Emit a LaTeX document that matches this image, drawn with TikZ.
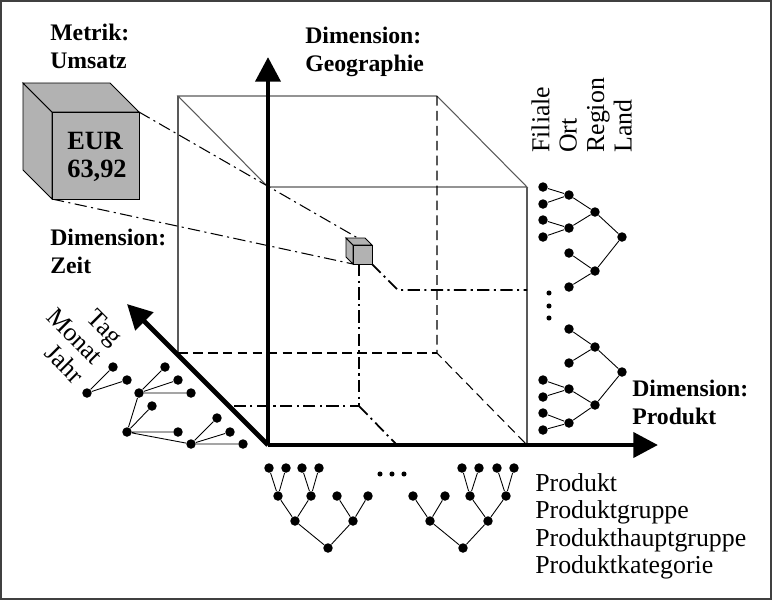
\documentclass[tikz,border=0pt]{standalone}
\usepackage{fontspec}
\setmainfont{Liberation Serif}
\usepackage{tikz}
\usetikzlibrary{arrows.meta}
\tikzset{
  dot/.style={circle, fill=black, inner sep=0pt, minimum size=5.4pt},
  smalldot/.style={circle, fill=black, inner sep=0pt, minimum size=2.9pt},
  axis/.style={line width=2.8pt, -{Triangle[length=14pt, width=14pt]}},
  twig/.style={draw=black, line width=0.5pt},
  edge3d/.style={draw=black!65, line width=0.6pt},
  hidden/.style={draw=black, line width=0.6pt, dash pattern=on 5.5pt off 3pt},
  proj/.style={draw=black, line width=0.6pt, dash pattern=on 7pt off 2.5pt on 1.2pt off 2.5pt},
  projthick/.style={proj, line width=1pt},
  cubeface/.style={fill=black!30, draw=black, line width=0.5pt},
  lbl/.style={font=\fontsize{13.5}{15.5}\selectfont\bfseries, align=left, inner sep=0pt, anchor=north west},
  lvl/.style={font=\fontsize{14.7}{15.6}\selectfont, align=left, inner sep=0pt},
}

\begin{document}
\begin{tikzpicture}[x=0.02cm, y=-0.02cm]
\useasboundingbox (0,0) rectangle (772,600);
\draw[black!75, line width=1.2pt] (1,1) rectangle (771,599);

% data cube, wire frame
\draw[edge3d] (268,187) -- (178,96) -- (437,96) -- (527,187) -- (268,187);
\draw[edge3d] (178,96) -- (178,353);
\draw[edge3d] (527,187) -- (527,445);
\draw[hidden] (437,96) -- (437,353) -- (527,445);
\draw[hidden] (178,353) -- (437,353);

% projection lines
\coordinate (cell) at (359,264);
\coordinate (floor) at (359,406);
\draw[projthick] (372,264) -- (398,290) -- (527,290);
\draw[projthick] (cell) -- (floor) -- (231,406);
\draw[projthick] (floor) -- (396,444);
\draw[proj] (139,112) -- (370,245);
\draw[proj] (52,199) -- (353,264);

% small cell
\draw[cubeface] (353,245) -- (346,238) -- (346,257) -- (353,264) -- cycle;
\draw[cubeface] (353,245) -- (346,238) -- (365,238) -- (372,245) -- cycle;
\draw[cubeface] (353,245) rectangle (372,264);

% the cell, enlarged
\draw[cubeface] (52,112) -- (23,83) -- (23,170) -- (52,199) -- cycle;
\draw[cubeface] (52,112) -- (23,83) -- (110,83) -- (139,112) -- cycle;
\draw[cubeface] (52,112) rectangle (139,199);
\node[font=\fontsize{15}{15.5}\selectfont\bfseries, align=left] (value) at (97,157) {EUR\\63,92};

% axes
\coordinate (O) at (268,445);
\draw[axis] (O) -- (268,57);
\draw[axis] (O) -- (658,445);
\draw[axis] (O) -- (127,304);

% labels
\node[lbl] (metric) at (50,24) {Metrik:\\Umsatz};
\node[lbl] (dimtime) at (50,229) {Dimension:\\Zeit};
\node[lbl] (dimgeo) at (305,27) {Dimension:\\Geographie};
\node[lbl] (dimprod) at (632,380) {Dimension:\\Produkt};
\node[lvl, anchor=north west] (prodlevels) at (535,473)
  {Produkt\\Produktgruppe\\Produkthauptgruppe\\Produktkategorie};
\node[lvl, rotate=90, anchor=north west] (geolevels) at (531,153)
  {Filiale\\Ort\\Region\\Land};
\node[lvl, rotate=-45, align=right] (timelevels) at (75,336)
  {Tag\\Monat\\Jahr};

% geography tree
\node[dot] (f1) at (543,187) {}; \node[dot] (f2) at (543,204) {};
\node[dot] (f3) at (543,220) {}; \node[dot] (f4) at (543,237) {};
\node[dot] (f5) at (543,380) {}; \node[dot] (f6) at (543,397) {};
\node[dot] (f7) at (543,413) {}; \node[dot] (f8) at (543,430) {};
\node[dot] (o1) at (569,195) {}; \node[dot] (o2) at (569,228) {};
\node[dot] (o3) at (569,253) {}; \node[dot] (o4) at (569,287) {};
\node[dot] (o5) at (569,329) {}; \node[dot] (o6) at (569,363) {};
\node[dot] (o7) at (569,389) {}; \node[dot] (o8) at (569,423) {};
\node[dot] (r1) at (595,212) {}; \node[dot] (r2) at (595,271) {};
\node[dot] (r3) at (595,347) {}; \node[dot] (r4) at (595,405) {};
\node[dot] (l1) at (622,237) {}; \node[dot] (l2) at (622,372) {};
\node[smalldot] (ge1) at (549,293) {};
\node[smalldot] (ge2) at (549,306) {};
\node[smalldot] (ge3) at (549,318) {};
\draw[twig] (f1) -- (o1) -- (f2) (f3) -- (o2) -- (f4)
  (f5) -- (o7) -- (f6) (f7) -- (o8) -- (f8)
  (o1) -- (r1) -- (o2) (o3) -- (r2) -- (o4)
  (o5) -- (r3) -- (o6) (o7) -- (r4) -- (o8)
  (r1) -- (l1) -- (r2) (r3) -- (l2) -- (r4);

% product tree
\node[dot] (p1) at (269,468) {}; \node[dot] (p2) at (286,468) {};
\node[dot] (p3) at (302,468) {}; \node[dot] (p4) at (319,468) {};
\node[dot] (p5) at (462,468) {}; \node[dot] (p6) at (479,468) {};
\node[dot] (p7) at (497,468) {}; \node[dot] (p8) at (514,468) {};
\node[dot] (pg1) at (278,496) {}; \node[dot] (pg2) at (311,496) {};
\node[dot] (pg3) at (337,496) {}; \node[dot] (pg4) at (368,496) {};
\node[dot] (pg5) at (413,496) {}; \node[dot] (pg6) at (445,496) {};
\node[dot] (pg7) at (470,496) {}; \node[dot] (pg8) at (506,496) {};
\node[dot] (ph1) at (295,521) {}; \node[dot] (ph2) at (353,521) {};
\node[dot] (ph3) at (430,521) {}; \node[dot] (ph4) at (488,521) {};
\node[dot] (pk1) at (328,548) {}; \node[dot] (pk2) at (463,548) {};
\node[smalldot] (pe1) at (380,474) {};
\node[smalldot] (pe2) at (392,474) {};
\node[smalldot] (pe3) at (404,474) {};
\draw[twig] (p1) -- (pg1) -- (p2) (p3) -- (pg2) -- (p4)
  (p5) -- (pg7) -- (p6) (p7) -- (pg8) -- (p8)
  (pg1) -- (ph1) -- (pg2) (pg3) -- (ph2) -- (pg4)
  (pg5) -- (ph3) -- (pg6) (pg7) -- (ph4) -- (pg8)
  (ph1) -- (pk1) -- (ph2) (ph3) -- (pk2) -- (ph4);

% time tree
\node[dot] (j1) at (87,393) {}; \node[dot] (j2) at (127,432) {};
\node[dot] (m1) at (113,367) {}; \node[dot] (m2) at (127,380) {};
\node[dot] (m3) at (139,393) {}; \node[dot] (m4) at (152,406) {};
\node[dot] (m5) at (178,432) {}; \node[dot] (m6) at (191,444) {};
\node[dot] (t1) at (165,367) {}; \node[dot] (t2) at (178,380) {};
\node[dot] (t3) at (191,393) {}; \node[dot] (t4) at (217,418) {};
\node[dot] (t5) at (230,432) {}; \node[dot] (t6) at (243,444) {};
\draw[twig] (j1) -- (m1) (j1) -- (m2)
  (j2) -- (m3) (j2) -- (m4) (j2) -- (m5) (j2) -- (m6)
  (m3) -- (t1) (m3) -- (t2) (m3) -- (t3)
  (m6) -- (t4) (m6) -- (t5) (m6) -- (t6);
\end{tikzpicture}
\end{document}
